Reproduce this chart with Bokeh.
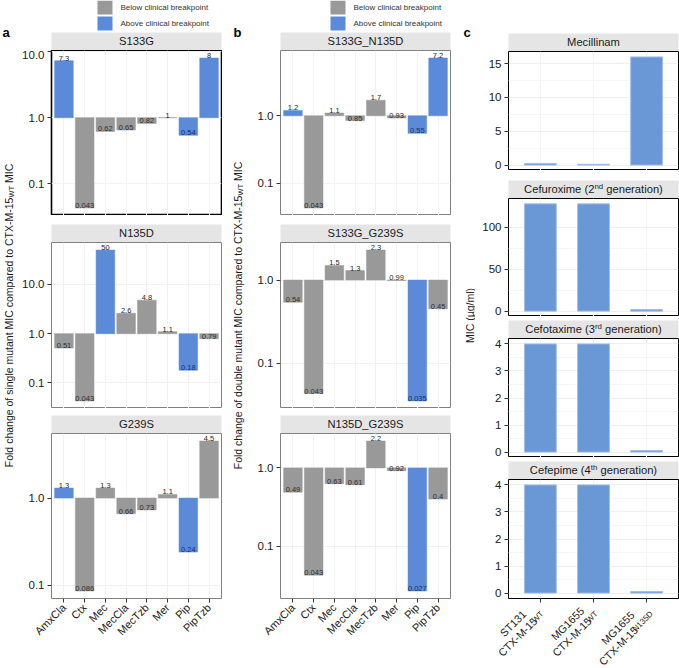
import math
from bokeh.plotting import figure
from bokeh.models import Range1d, FixedTicker, PrintfTickFormatter, ColumnDataSource
from bokeh.layouts import column, row
from bokeh.embed import file_html
from bokeh.resources import INLINE
from bokeh.core.properties import value

# ---------------- data ----------------
drugs = ["AmxCla", "Ctx", "Mec", "MecCla", "MecTzb", "Mer", "Pip", "PipTzb"]

single_titles = ["S133G", "N135D", "G239S"]
fold_S133G = [7.3, 0.043, 0.62, 0.65, 0.82, 1.0, 0.54, 8.0]
fold_N135D = [0.51, 0.043, 50.0, 2.6, 4.8, 1.1, 0.18, 0.79]
fold_G239S = [1.3, 0.086, 1.3, 0.66, 0.73, 1.1, 0.24, 4.5]
above_S133G = [True, False, False, False, False, False, True, True]
above_N135D = [False, False, True, False, False, False, True, False]
above_G239S = [True, False, False, False, False, False, True, False]

double_titles = ["S133G_N135D", "S133G_G239S", "N135D_G239S"]
fold_S133G_N135D = [1.2, 0.043, 1.1, 0.85, 1.7, 0.93, 0.55, 7.2]
fold_S133G_G239S = [0.54, 0.043, 1.5, 1.3, 2.3, 0.99, 0.035, 0.45]
fold_N135D_G239S = [0.49, 0.043, 0.63, 0.61, 2.2, 0.92, 0.027, 0.4]
above_S133G_N135D = [True, False, False, False, False, False, True, True]
above_S133G_G239S = [False, False, False, False, False, False, True, False]
above_N135D_G239S = [False, False, False, False, False, False, True, False]

legend_labels = ["Below clinical breakpoint", "Above clinical breakpoint"]
panel_letters = ["a", "b", "c"]

strain_line1 = ["ST131", "MG1655", "MG1655"]
strain_line2 = ["CTX-M-15", "CTX-M-15", "CTX-M-15"]
strain_sub = ["WT", "WT", "N135D"]

mic_titles = [("Mecillinam", "", ""),
              ("Cefuroxime (2", "nd", " generation)"),
              ("Cefotaxime (3", "rd", " generation)"),
              ("Cefepime (4", "th", " generation)")]
mic_mecillinam = [0.25, 0.125, 16]
mic_cefuroxime = [128, 128, 2]
mic_cefotaxime = [4, 4, 0.06]
mic_cefepime = [4, 4, 0.06]
mic_ticks = [[0, 5, 10, 15], [0, 50, 100], [0, 1, 2, 3, 4], [0, 1, 2, 3, 4]]

ylab_single = ["Fold change of single mutant MIC compared to CTX-M-15", "WT", " MIC"]
ylab_double = ["Fold change of double mutant MIC compared to CTX-M-15", "WT", " MIC"]
ylab_mic = "MIC (\u00b5g/ml)"

# ---------------- style ----------------
FONT = "Liberation Sans"
GRAY = "#999999"
BLUE = "#5B8BD8"
BLUE_C = "#6A98D6"
BLUE_C_EDGE = "#A3BFE8"
STRIP_BG = "#E5E5E5"
TXT = "#1A1A1A"

FW = 170
R = 1
STRIP_H = 18
H_TOTAL = 668
STRIP_FS = 11.2
TITLE_FS = 10.5

AW = {' ': 278, '(': 333, ')': 333, '-': 333, '_': 556, '.': 278, '/': 278, '\u00b5': 576,
      'A': 667, 'B': 667, 'C': 722, 'D': 722, 'E': 667, 'F': 611, 'G': 778, 'H': 722, 'I': 278,
      'J': 500, 'K': 667, 'L': 556, 'M': 833, 'N': 722, 'O': 778, 'P': 667, 'Q': 778, 'R': 722,
      'S': 667, 'T': 611, 'U': 722, 'V': 667, 'W': 944, 'X': 667, 'Y': 667, 'Z': 611,
      'a': 556, 'b': 556, 'c': 500, 'd': 556, 'e': 556, 'f': 278, 'g': 556, 'h': 556, 'i': 222,
      'j': 222, 'k': 500, 'l': 222, 'm': 833, 'n': 556, 'o': 556, 'p': 556, 'q': 556, 'r': 333,
      's': 500, 't': 278, 'u': 556, 'v': 500, 'w': 722, 'x': 500, 'y': 500, 'z': 500}


def tw(s, fs):
    return sum(AW.get(ch, 556) for ch in s) * fs / 1000.0


def new_fig(**kw):
    return figure(toolbar_location=None, output_backend="svg", frame_align=False, **kw)


def blank_fig(w, h, x_range=None, y_range=None, **kw):
    opts = dict(min_border_left=0, min_border_right=0, min_border_top=0, min_border_bottom=0)
    opts.update(kw)
    f = new_fig(frame_width=w, frame_height=h,
                x_range=x_range if x_range is not None else Range1d(0, w),
                y_range=y_range if y_range is not None else Range1d(0, h),
                x_axis_location=None, y_axis_location=None, **opts)
    f.outline_line_color = None
    f.grid.visible = False
    return f


def put_text(f, x, y, t, fs, angle=0.0, align="left", bold=False, color=TXT):
    f.text(x=[x], y=[y], text=[t], angle=angle, text_font=value(FONT),
           text_font_size=f"{fs}px", text_align=align, text_baseline="middle",
           text_color=color, text_font_style="bold" if bold else "normal")


def put_parts(f, parts, x0, y0, angle, xscale=1.0):
    """Draw consecutive text pieces (text, size, baseline shift) along a direction."""
    u = (math.cos(angle), math.sin(angle))
    n = (-math.sin(angle), math.cos(angle))
    cum = 0.0
    for t, fs, dy in parts:
        lead = len(t) - len(t.lstrip(" "))
        cum += tw(" " * lead, fs)
        t2 = t.strip(" ")
        if t2:
            px_ = u[0] * cum + n[0] * dy
            py_ = u[1] * cum + n[1] * dy
            put_text(f, x0 + px_ / xscale, y0 + py_, t2, fs, angle=angle)
        cum += tw(t.lstrip(" "), fs)


def style_axes(f):
    for ax in f.axis:
        ax.axis_line_color = None
        ax.major_tick_line_color = "#333333"
        ax.major_tick_out = 4
        ax.major_tick_in = 0
        ax.minor_tick_line_color = None
        ax.major_label_standoff = 3
        ax.major_label_text_font = FONT
        ax.major_label_text_color = TXT
        ax.major_label_text_font_size = "11.5px"


def strip_fig(parts, L, top_gap):
    f = blank_fig(FW, STRIP_H, min_border_left=L, min_border_right=R, min_border_top=top_gap)
    f.background_fill_color = STRIP_BG
    total = sum(tw(t, fs) for t, fs, _ in parts)
    put_parts(f, parts, (FW - total) / 2, STRIP_H / 2 + 0.3, 0.0)
    return f


def legend_fig(w, h, kx):
    f = blank_fig(w, h)
    cols = [GRAY, BLUE]
    tops = [h, h - 16]
    for lab, c, tp in zip(legend_labels, cols, tops):
        f.quad(left=[kx], right=[kx + 15], top=[tp], bottom=[tp - 14], fill_color=c, line_color=None)
        put_text(f, kx + 23, tp - 7, lab, 8, color="#333333")
    return f


def ytitle_fig(parts, W, xc, yc, letter, lx):
    f = blank_fig(W, H_TOTAL)
    total = sum(tw(t, fs) for t, fs, _ in parts)
    put_parts(f, parts, xc, yc - total / 2, math.pi / 2)
    put_text(f, lx, H_TOTAL - 31.5, letter, 13, bold=True, color="black")
    return f


def log_facet(vals, above, L, fh, bottom, border):
    lo = math.log10(min(min(vals), 1.0))
    hi = math.log10(max(max(vals), 1.0))
    pad = 0.05 * (hi - lo)
    f = new_fig(frame_width=FW, frame_height=fh, y_axis_type="log",
                x_range=Range1d(0.4, len(vals) + 0.6),
                y_range=Range1d(10 ** (lo - pad), 10 ** (hi + pad)),
                min_border_left=L, min_border_right=R, min_border_top=0,
                min_border_bottom=bottom)
    xs = list(range(1, len(vals) + 1))
    fills = [BLUE if a else GRAY for a in above]
    tcols = [("#16306B" if a else "#2E2E2E") if v < 1 else "#1F1F1F" for v, a in zip(vals, above)]
    src = ColumnDataSource(dict(x=xs, top=vals, fill=fills,
                                lab=[f"{v:g}" for v in vals], tc=tcols))
    f.vbar(x="x", top="top", bottom=1.0, width=0.9, fill_color="fill",
           line_color="fill", line_width=0.5, source=src)
    f.text(x="x", y="top", text="lab", text_align="center", text_baseline="bottom",
           text_font=value(FONT), text_font_size="7.5px", text_color="tc", source=src)
    tick = FixedTicker(ticks=[0.1, 1, 10])
    f.yaxis.ticker = tick
    f.yaxis.formatter = PrintfTickFormatter(format="%.1f")
    f.ygrid.ticker = tick
    f.xaxis.ticker = FixedTicker(ticks=xs)
    f.xgrid.ticker = FixedTicker(ticks=xs)
    f.grid.grid_line_color = "#F2F2F2"
    style_axes(f)
    if bottom > 20:
        f.xaxis.major_label_overrides = {x: d for x, d in zip(xs, drugs)}
        f.xaxis.major_label_orientation = math.pi / 4
        f.xaxis.major_label_text_font_size = "11px"
    else:
        f.xaxis.visible = False
    f.outline_line_color = border
    f.outline_line_width = 1.6 if border == "black" else 1
    return f


def lin_facet(vals, ticks, fh, L, bottom):
    hi = max(vals)
    pad = 0.05 * hi
    f = new_fig(frame_width=FW, frame_height=fh,
                x_range=Range1d(0.4, len(vals) + 0.6), y_range=Range1d(-pad, hi + pad),
                min_border_left=L, min_border_right=R, min_border_top=0,
                min_border_bottom=bottom)
    xs = list(range(1, len(vals) + 1))
    f.vbar(x=xs, top=vals, bottom=0, width=0.6, fill_color=BLUE_C,
           line_color=BLUE_C_EDGE, line_width=1)
    minors = [(a + b) / 2 for a, b in zip(ticks[:-1], ticks[1:])]
    f.yaxis.ticker = FixedTicker(ticks=ticks)
    f.ygrid.ticker = FixedTicker(ticks=ticks, minor_ticks=minors)
    f.ygrid.grid_line_color = "#EFEFEF"
    f.ygrid.minor_grid_line_color = "#F6F6F6"
    f.xaxis.ticker = FixedTicker(ticks=xs)
    f.xgrid.ticker = FixedTicker(ticks=xs)
    f.xgrid.grid_line_color = "#F4F4F4"
    style_axes(f)
    if bottom > 0:
        f.xaxis.major_label_text_color = None
        f.xaxis.major_label_text_font_size = "1px"
        f.xaxis.major_label_standoff = 0
    else:
        f.xaxis.visible = False
    f.outline_line_color = "black"
    f.outline_line_width = 1
    return f


def strain_label_fig(L, h, n):
    ppx = FW / (n - 0.2)
    f = blank_fig(L + FW + R, h, x_range=Range1d(0.4 - L / ppx, n + 0.6 + R / ppx))
    ang = math.pi / 4
    u = (math.cos(ang), math.sin(ang))
    nn = (-math.sin(ang), math.cos(ang))
    fs, sfs, lh = 10.8, 8.0, 12.7
    for i in range(n):
        lines = [[(strain_line1[i], fs, 0.0)],
                 [(strain_line2[i], fs, 0.0), (strain_sub[i], sfs, -3.0)]]
        widths = [sum(tw(t, s) for t, s, _ in ln) for ln in lines]
        # right end (centre line) of the second line sits just below the tick
        ex, ey = 2.0, h - 7.0
        c2 = (ex - u[0] * widths[1] / 2, ey - u[1] * widths[1] / 2)
        c1 = (c2[0] + nn[0] * lh, c2[1] + nn[1] * lh)
        for ln, wk, ck in zip(lines, widths, [c1, c2]):
            sx = ck[0] - u[0] * wk / 2
            sy = ck[1] - u[1] * wk / 2
            put_parts(f, ln, (i + 1) + sx / ppx, sy, ang, xscale=ppx)
    return f


# ---------------- column a ----------------
LA = 35
FH_AB = [165, 166, 165]
GAPS_AB = [0, 9, 7]
BOT_AB = 70
singles = [(fold_S133G, above_S133G), (fold_N135D, above_N135D), (fold_G239S, above_G239S)]
col_a = [legend_fig(LA + FW + R, 32, 81)]
for i, (title, (vals, ab)) in enumerate(zip(single_titles, singles)):
    col_a.append(strip_fig([(title, STRIP_FS, 0)], LA, GAPS_AB[i]))
    col_a.append(log_facet(vals, ab, LA, FH_AB[i], BOT_AB if i == 2 else 0,
                           "black" if i == 0 else "#808080"))

# ---------------- column b ----------------
LB = 34
doubles = [(fold_S133G_N135D, above_S133G_N135D), (fold_S133G_G239S, above_S133G_G239S),
           (fold_N135D_G239S, above_N135D_G239S)]
col_b = [legend_fig(LB + FW + R, 32, 84)]
for i, (title, (vals, ab)) in enumerate(zip(double_titles, doubles)):
    col_b.append(strip_fig([(title, STRIP_FS, 0)], LB, GAPS_AB[i]))
    col_b.append(log_facet(vals, ab, LB, FH_AB[i], BOT_AB if i == 2 else 0, "#808080"))

# ---------------- column c ----------------
LC = 33
FH_C = [119, 118, 119, 119]
GAPS_C = [0, 10, 4, 4]
mics = [mic_mecillinam, mic_cefuroxime, mic_cefotaxime, mic_cefepime]
col_c = [blank_fig(LC + FW + R, 33)]
for i, (tparts, vals, ticks) in enumerate(zip(mic_titles, mics, mic_ticks)):
    parts = [(tparts[0], STRIP_FS, 0), (tparts[1], 7.8, 2.6), (tparts[2], STRIP_FS, 0)]
    col_c.append(strip_fig(parts, LC, GAPS_C[i]))
    col_c.append(lin_facet(vals, ticks, FH_C[i], LC, 5 if i == 3 else 0))
col_c.append(strain_label_fig(LC, 65, len(strain_line1)))

YC = H_TOTAL - 315
yt_a = ytitle_fig([(ylab_single[0], TITLE_FS, 0), (ylab_single[1], 7.5, -3.0),
                   (ylab_single[2], TITLE_FS, 0)], 16, 8, YC, panel_letters[0], 2)
yt_b = ytitle_fig([(ylab_double[0], TITLE_FS, 0), (ylab_double[1], 7.5, -3.0),
                   (ylab_double[2], TITLE_FS, 0)], 24, 15, YC, panel_letters[1], 11)
yt_c = ytitle_fig([(ylab_mic, TITLE_FS, 0)], 24, 18, YC, panel_letters[2], 12)

layout = row(yt_a, column(*col_a), yt_b, column(*col_b), yt_c, column(*col_c))

open("out.html", "w").write(file_html(layout, INLINE))
